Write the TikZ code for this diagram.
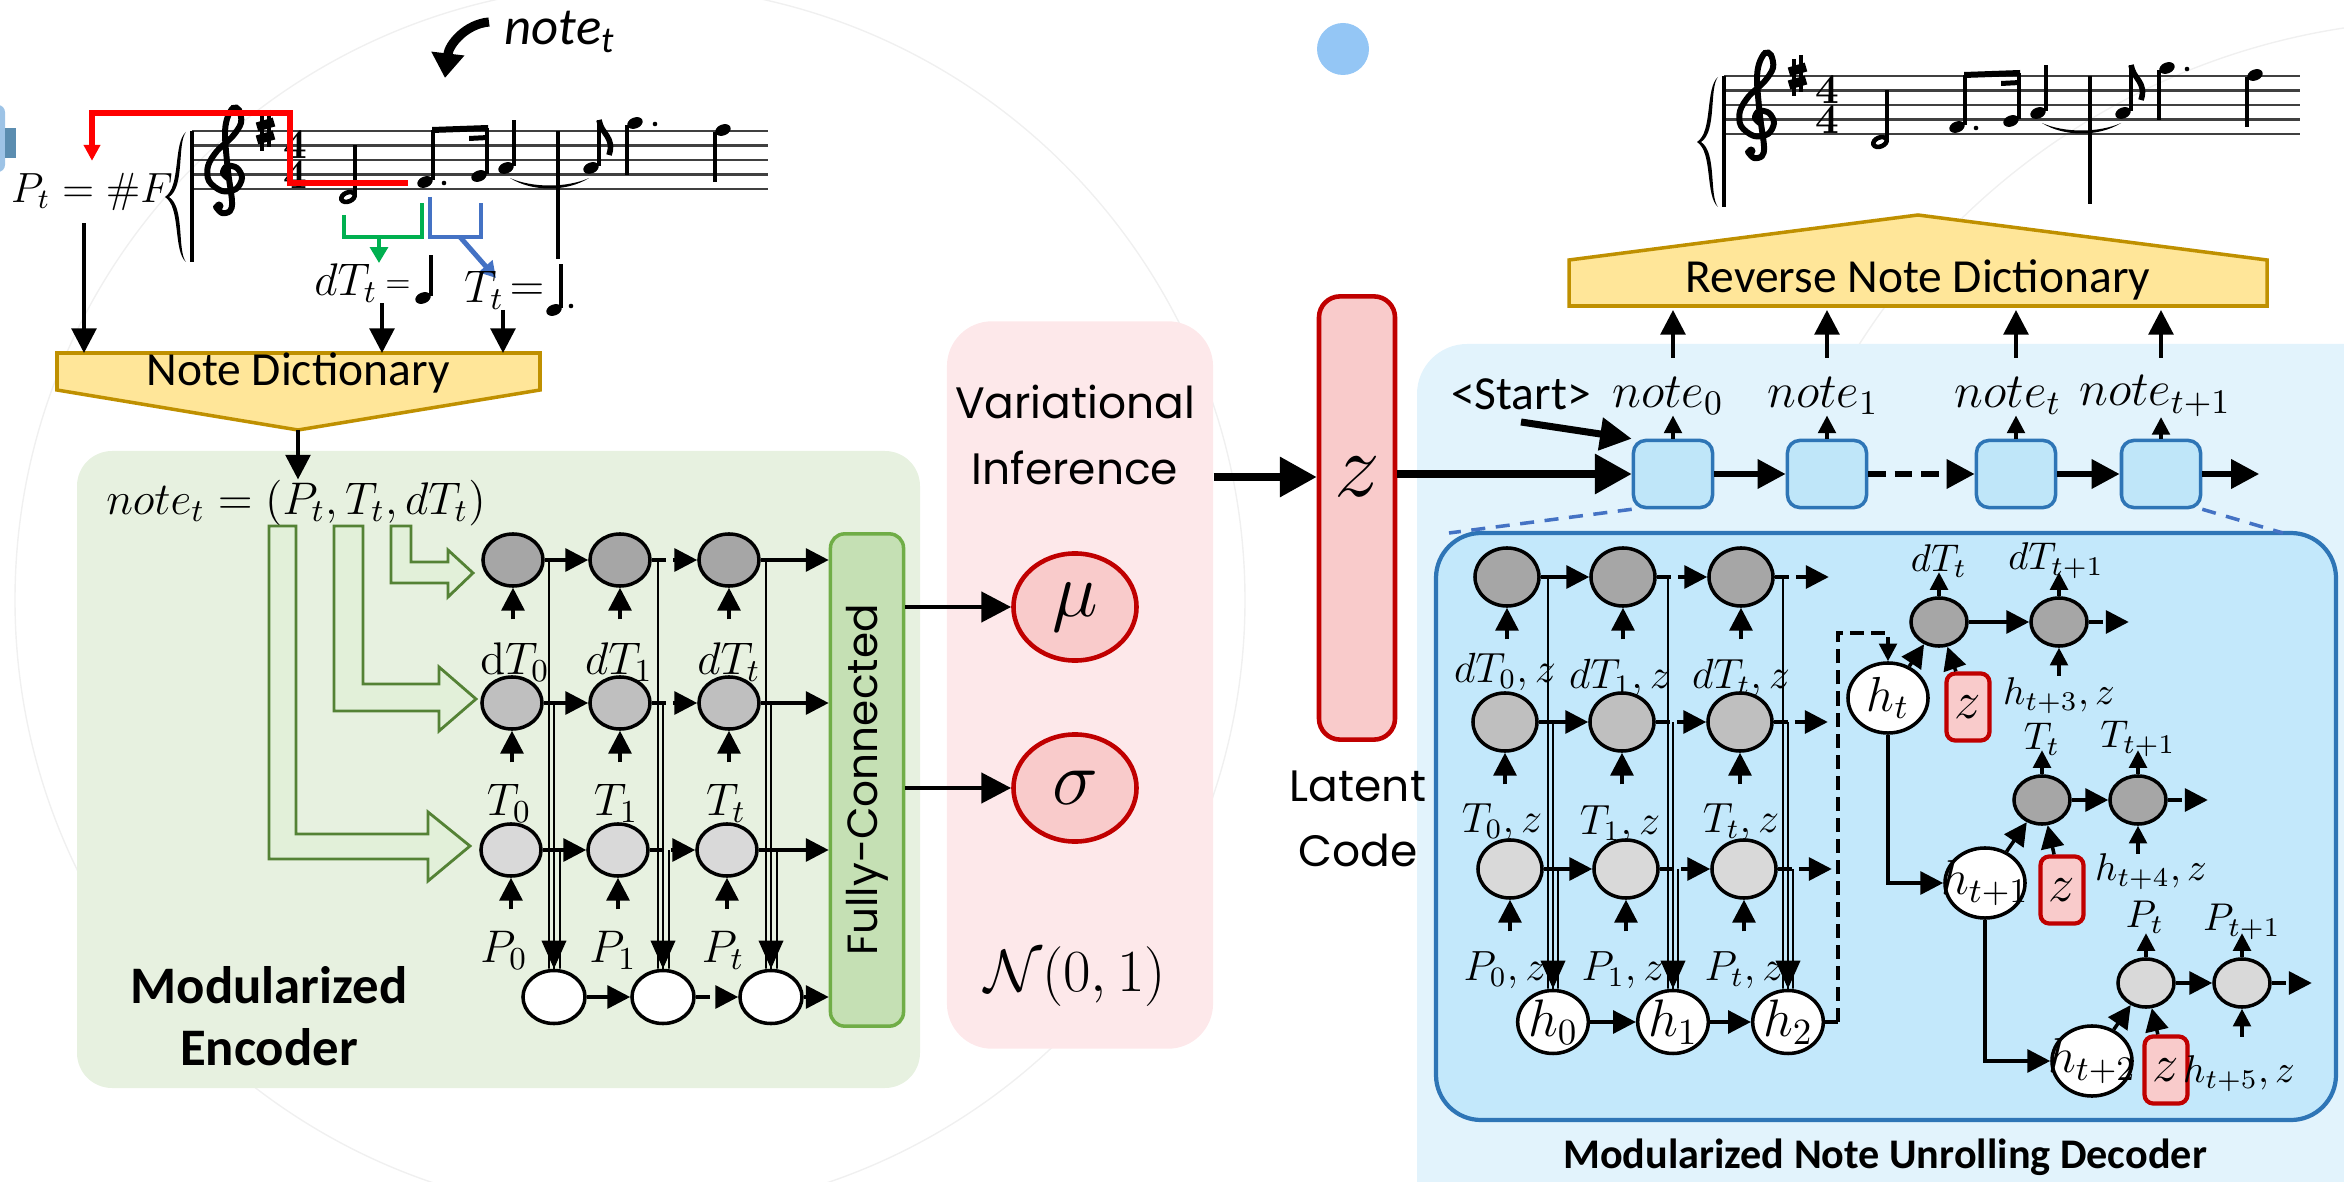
\RequirePackage{fix-cm}
\documentclass[tikz,border=0pt]{standalone}
\usepackage[no-math]{fontspec}
\setmainfont{Carlito}
\newfontfamily\geofont{Poppins}
\usetikzlibrary{shapes.geometric, arrows.meta, calc}

\definecolor{ndfill}{HTML}{FFE699}
\definecolor{nddraw}{HTML}{BF9000}
\definecolor{grayA}{HTML}{A6A6A6}
\definecolor{grayB}{HTML}{BFBFBF}
\definecolor{grayC}{HTML}{D9D9D9}
\definecolor{encbg}{HTML}{E7F1E0}
\definecolor{fcfill}{HTML}{C5E0B4}
\definecolor{fcdraw}{HTML}{70AD47}
\definecolor{hollowgreen}{HTML}{548235}
\definecolor{hollowfill}{HTML}{E2F0D9}
\definecolor{vibg}{HTML}{FDE8EA}
\definecolor{zred}{HTML}{C00000}
\definecolor{zfill}{HTML}{F9CBCB}
\definecolor{decbg}{HTML}{E2F3FC}
\definecolor{decin}{HTML}{C3E8FB}
\definecolor{celldraw}{HTML}{2E75B6}
\definecolor{cellfill}{HTML}{BFE6F9}
\definecolor{dotblue}{HTML}{94C6F5}
\definecolor{edgeblue}{HTML}{9DC3E6}
\definecolor{edgedark}{HTML}{5B8DB0}
\definecolor{brblue}{HTML}{4472C4}
\definecolor{brgreen}{HTML}{00B050}

\tikzset{
  arr/.style={line width=1pt, -{Triangle[length=6.5pt,width=6.5pt]}},
  smallarr/.style={line width=1pt, -{Triangle[length=5pt,width=5pt]}},
  ndarr/.style={line width=1.1pt, -{Triangle[length=7pt,width=7pt]}},
  fcarr/.style={line width=1.4pt, -{Triangle[length=8.5pt,width=8.5pt]}},
  bigarr/.style={line width=2.2pt, -{Triangle[length=10.5pt,width=11pt]}},
  cellarr/.style={line width=1.8pt, -{Triangle[length=8pt,width=8pt]}},
  dsh/.style={dash pattern=on 4pt off 2pt},
  vline/.style={line width=0.5pt},
  vhead/.style={line width=0.5pt, -{Triangle[length=8pt,width=7pt]}},
  staffline/.style={line width=0.6pt, black!75},
  notestem/.style={line width=0.9pt},
  timesig/.style={font=\fontsize{12}{8.4}\selectfont, inner sep=0pt, align=center},
  encA/.style={ellipse, draw, line width=1pt, fill=grayA, minimum width=0.6cm, minimum height=0.52cm, inner sep=0pt},
  encB/.style={encA, fill=grayB},
  encC/.style={encA, fill=grayC},
  encH/.style={encA, fill=white, minimum width=0.62cm, minimum height=0.53cm},
  decA/.style={encA, fill=grayA, minimum width=0.64cm, minimum height=0.58cm},
  decB/.style={decA, fill=grayB},
  decC/.style={decA, fill=grayC},
  decH/.style={decA, fill=white, font=\fontsize{15}{15}\selectfont},
  hbig/.style={decH, minimum width=0.8cm, minimum height=0.7cm},
  htext/.style={font=\fontsize{14}{14}\selectfont, inner sep=0pt},
  brA/.style={encA, fill=grayA, minimum width=0.56cm, minimum height=0.48cm},
  brC/.style={brA, fill=grayC},
  zsmall/.style={rectangle, rounded corners=2.5pt, draw=zred, line width=1.2pt, fill=zfill, minimum width=0.43cm, minimum height=0.67cm, inner sep=0pt, font=\fontsize{15}{15}\selectfont},
  zlat/.style={rectangle, rounded corners=6pt, draw=zred, line width=1.3pt, fill=zfill, minimum width=0.76cm, minimum height=4.43cm},
  deccell/.style={rectangle, rounded corners=3.5pt, draw=celldraw, line width=1pt, fill=cellfill, minimum width=0.79cm, minimum height=0.67cm},
  fcbox/.style={rectangle, rounded corners=4pt, draw=fcdraw, line width=1pt, fill=fcfill, minimum width=4.92cm, minimum height=0.73cm, font=\geofont\fontsize{12}{12}\selectfont},
  gauss/.style={ellipse, draw=zred, line width=1.3pt, fill=zfill, minimum width=1.23cm, minimum height=1.07cm, font=\fontsize{22}{22}\selectfont},
  hollow/.style={draw=hollowgreen, line width=0.8pt, fill=hollowfill},
  mlab/.style={font=\fontsize{13}{13}\selectfont, inner sep=0pt},
  dlab/.style={font=\fontsize{12}{12}\selectfont, inner sep=0pt},
  blab/.style={font=\fontsize{11}{11}\selectfont, inner sep=0pt},
  nlab/.style={font=\fontsize{14}{14}\selectfont, inner sep=0pt},
  geo/.style={font=\geofont\fontsize{12.5}{18.5}\selectfont, align=center},
  dict/.style={font=\fontsize{13.5}{13.5}\selectfont},
}

\newcommand\nhead[2]{\fill[rotate around={22:(#1,#2)}] (#1,#2) ellipse (8 and 5.5);}
\newcommand\melody{%
  \foreach \yy in {0,14.5,29,43.5,58} {\draw[staffline] (0,\yy) -- (576,\yy);}
  \draw[line width=1pt] (0,0) -- (0,131);
  \draw[line width=1pt] (366,0) -- (366,128);
  % brace
  \fill (-6,1) .. controls (-19,12) and (-11,56) .. (-27,66) .. controls (-11,76) and (-19,120) .. (-6,131)
        .. controls (-15,120) and (-7,76) .. (-23,66) .. controls (-7,56) and (-15,12) .. cycle;
  % clef
  \draw[line width=1.7pt, line cap=round] plot[smooth, tension=0.55] coordinates {(37,48) (31,42) (35,35) (45,37) (50,47) (44,58) (30,60) (17,50) (16,35) (25,20) (40,6) (49,-8) (47,-21) (41,-23) (35,-12) (33,5) (36,40) (40,70) (38,80) (30,82) (24,76)};
  \fill (27,75) circle (4.5);
  % key and time
  \draw[line width=0.9pt] (70,-17) -- (70,20) (77,-21) -- (77,16);
  \draw[line width=2.6pt] (65,-4) -- (82,-9) (65,9) -- (82,4);
  \node[timesig] at (103,29) {$\mathbf{4}$\\$\mathbf{4}$};
  % notes
  \draw[line width=1.3pt, rotate around={22:(156,66)}] (156,66) ellipse (7 and 4.5);
  \draw[notestem] (163,64) -- (163,14);
  \nhead{233}{51} \draw[notestem] (241,49) -- (241,-1);
  \fill (252,52) circle (2.3);
  \nhead{287}{45} \draw[notestem] (295,43) -- (295,-3);
  \fill (240,-4) -- (296,-6) -- (296,0) -- (240,2) -- cycle;
  \fill (277,5) -- (296,4) -- (296,9) -- (277,10) -- cycle;
  \nhead{314}{37} \draw[notestem] (322,35) -- (322,-11);
  \fill (318,47) .. controls (340,61) and (375,61) .. (397,47) .. controls (375,57) and (340,57) .. (318,47);
  \nhead{399}{37} \draw[notestem] (407,35) -- (407,-11);
  \draw[line width=1.6pt] (407,-11) .. controls (409,3) and (423,6) .. (417,24);
  \nhead{443}{-8} \draw[notestem] (435,-6) -- (435,44);
  \fill (463,-7) circle (2.3);
  \nhead{531}{-1} \draw[notestem] (523,1) -- (523,51);
}

\begin{document}
\begin{tikzpicture}[x=0.01cm, y=-0.01cm]
\useasboundingbox (0,0) rectangle (2344,1182);

% faint background arcs, edge remnant, dot
\draw[black!6, line width=0.4pt] (630,600) circle (615);
\draw[black!6, line width=0.4pt] (2450,720) circle (700);
\fill[edgeblue, rounded corners=2pt] (-10,105) rectangle (5,172);
\fill[edgedark] (5,128) rectangle (16,158);
\fill[dotblue] (1343,49) circle (26);

% backgrounds
\fill[encbg, rounded corners=0.35cm] (77,451) rectangle (920,1088);
\node[rectangle, rounded corners=0.45cm, fill=vibg, minimum width=2.66cm, minimum height=7.27cm] (vi) at (1080,685) {};
\fill[decbg, rounded corners=0.5cm] (1417,344) rectangle (2400,1240);
\draw[celldraw, line width=1.2pt, fill=decin, rounded corners=0.45cm] (1436,533) rectangle (2336,1120);

% scores
\begin{scope}[shift={(192,131)}] \melody \end{scope}
\begin{scope}[shift={(1724,76)}] \melody \end{scope}

% input annotations
\node[font=\itshape\fontsize{15}{15}\selectfont] (notet) at (560,32) {note\textsubscript{\itshape t}};
\coordinate (noteptr) at (445,78);
\draw[line width=2.6pt, -{Triangle[length=7pt,width=9pt]}] (489,22) .. controls (466,24) and (449,44) .. (noteptr);
\node[font=\fontsize{12}{12}\selectfont] (pt) at (92,192) {$P_t = \#F$};
\draw[red, line width=1.6pt, -{Triangle[length=4.5pt,width=4.5pt]}] (408,183) -- (290,183) -- (290,113) -| (pt.north);
\draw[brgreen, line width=1.4pt] (344,215) -- (344,237) -- (422,237) -- (422,203);
\draw[brgreen, line width=1.4pt, -{Triangle[length=4.5pt,width=5pt]}] (379,237) -- (379,263);
\draw[brblue, line width=1.4pt] (430,197) -- (430,237) -- (481,237) -- (481,203);
\draw[brblue, line width=1.4pt, -{Triangle[length=4.5pt,width=5pt]}] (460,237) -- (496,278);

\node[mlab] (dTt) at (346,283) {$dT_t$};
\node[font=\fontsize{9}{9}\selectfont] at (398,287) {$=$};
\nhead{423}{298} \draw[notestem] (431,296) -- (431,255);
\node[mlab] (Tt) at (484,290) {$T_t$};
\node[mlab] at (527,292) {$=$};
\nhead{554}{310} \draw[notestem] (561,308) -- (561,264);
\fill (571,306) circle (2.3);

% note dictionary
\filldraw[fill=ndfill, draw=nddraw, line width=1pt] (57,353) -- (540,353) -- (540,390) -- (298,430) -- (57,390) -- cycle;
\node[dict] (nd) at (298,373) {Note Dictionary};
\coordinate (ndl) at (84,353);
\coordinate (ndm) at (382,353);
\coordinate (ndr) at (503,353);
\coordinate (ndtip) at (298,430);
\draw[ndarr] (pt.south -| ndl) -- (ndl);
\draw[ndarr] (dTt.south -| ndm) -- (ndm);
\draw[ndarr] (Tt.south -| ndr) -- (ndr);
\node[mlab] (nform) at (296,503) {$note_t = (P_t, T_t, dT_t)$};
\draw[ndarr] (ndtip) -- (ndtip |- nform.north);

% encoder
\filldraw[hollow] (269,526) -- (296,526) -- (296,834) -- (428,834) -- (428,812) -- (470,846) -- (428,881) -- (428,859) -- (269,859) -- cycle;
\filldraw[hollow] (334,526) -- (363,526) -- (363,684) -- (439,684) -- (439,667) -- (476,699) -- (439,731) -- (439,711) -- (334,711) -- cycle;
\filldraw[hollow] (391,526) -- (411,526) -- (411,562) -- (448,562) -- (448,550) -- (473,573) -- (448,597) -- (448,583) -- (391,583) -- cycle;

\node[encA] (a0) at (513,560) {};
\node[encA] (a1) at (620,560) {};
\node[encA] (a2) at (729,560) {};
\node[encB] (b0) at (512,703) {};
\node[encB] (b1) at (620,703) {};
\node[encB] (b2) at (729,703) {};
\node[encC] (c0) at (511,850) {};
\node[encC] (c1) at (618,850) {};
\node[encC] (c2) at (727,850) {};
\node[encH] (h0) at (554,997) {};
\node[encH] (h1) at (663,997) {};
\node[encH] (h2) at (771,997) {};
\node[fcbox, rotate=90] (fc) at (867,780) {Fully-Connected};

\foreach \r in {a,b,c,h} {
  \draw[arr] (\r0) -- (\r1);
  \draw[arr,dsh] (\r1) -- (\r2);
  \draw[arr] (\r2) -- (\r2 -| fc.north);
}
\foreach \n in {a0,a1,a2,b0,b1,b2,c0,c1,c2} {\draw[arr] ([yshift=-9pt]\n.south) -- (\n.south);}
\foreach \k in {0,1,2} {
  \draw[vline] (a\k -| h\k) ++(-5,0) -- ([xshift=-1.42pt]h\k.north);
  \draw[vline] (b\k -| h\k) -- (h\k.north);
  \draw[vline] (c\k -| h\k) ++(6,0) -- ([xshift=1.7pt]h\k.north);
  \draw[vhead] ([yshift=8pt]h\k.north) -- (h\k.north);
}
\node[mlab] at (515,662) {$\mathrm{d}T_0$};
\node[mlab] at (619,662) {$dT_1$};
\node[mlab] at (729,662) {$dT_t$};
\node[mlab] at (509,803) {$T_0$};
\node[mlab] at (616,803) {$T_1$};
\node[mlab] at (726,803) {$T_t$};
\node[mlab] at (504,950) {$P_0$};
\node[mlab] at (613,950) {$P_1$};
\node[mlab] at (723,950) {$P_t$};
\node[font=\bfseries\fontsize{15}{17.6}\selectfont, align=center] at (269,1016) {Modularized\\Encoder};

% variational inference
\node[geo] (vitext) at (1075,435) {Variational\\Inference};
\node[gauss] (mu) at (1075,607) {$\mu$};
\node[gauss] (sg) at (1075,788) {$\sigma$};
\draw[fcarr] (mu -| fc.south) -- (mu);
\draw[fcarr] (sg -| fc.south) -- (sg);
\node[font=\fontsize{17}{17}\selectfont] (prior) at (1075,977) {$\mathcal{N}(0,1)$};

% latent code
\node[zlat] (zc) at (1357,518) {};
\node[font=\fontsize{26}{26}\selectfont] (zl) at (1357,477) {$z$};
\node[geo] (latent) at (1358,819) {Latent\\Code};
\draw[bigarr] (zl -| vi.east) -- (zl -| zc.west);

% decoder cells
\node[deccell] (s0) at (1673,474) {};
\node[deccell] (s1) at (1827,474) {};
\node[deccell] (s2) at (2016,474) {};
\node[deccell] (s3) at (2161,474) {};
\draw[bigarr] (s0 -| zc.east) -- (s0);
\draw[cellarr] (s0) -- (s1);
\draw[cellarr, dash pattern=on 5pt off 2.5pt] (s1) -- (s2);
\draw[cellarr] (s2) -- (s3);
\draw[cellarr] (s3.east) -- ++(57,0);
\node[nlab] (n0) at (1668,396) {$note_0$};
\node[nlab] (n1) at (1823,396) {$note_1$};
\node[nlab] (n2) at (2008,396) {$note_t$};
\node[nlab] (n3) at (2155,396) {$note_{t+1}$};
\node[dict] (st) at (1521,394) {<Start>};
\draw[line width=2pt, -{Triangle[length=9pt,width=9pt]}] (st.south) -- (s0.north west);

\filldraw[fill=ndfill, draw=nddraw, line width=1pt] (1569,306) -- (1569,260) -- (1918,215) -- (2267,260) -- (2267,306) -- cycle;
\node[dict] (rnd) at (1918,280) {Reverse Note Dictionary};
\coordinate (upst) at (1918,358);
\coordinate (rndb) at (1918,310);
\foreach \c/\l in {s0/n0,s1/n1,s2/n2,s3/n3} {
  \draw[smallarr] (\c.north) -- (\c.north |- \l.south);
  \draw[ndarr] (\c |- upst) -- (\c |- rndb);
}
\coordinate (inTL) at (1449,533);
\coordinate (inTR) at (2283,533);
\draw[brblue, line width=1pt, dash pattern=on 4pt off 3pt] (s0.south west) -- (inTL);
\draw[brblue, line width=1pt, dash pattern=on 4pt off 3pt] (s3.south east) -- (inTR);

% unrolled decoder
\node[decA] (da0) at (1507,577) {};
\node[decA] (da1) at (1623,577) {};
\node[decA] (da2) at (1741,577) {};
\node[decB] (db0) at (1505,722) {};
\node[decB] (db1) at (1622,722) {};
\node[decB] (db2) at (1740,722) {};
\node[decC] (dc0) at (1510,869) {};
\node[decC] (dc1) at (1626,869) {};
\node[decC] (dc2) at (1744,869) {};
\node[decH] (dh0) at (1553,1022) {$h_0$};
\node[decH] (dh1) at (1673,1022) {$h_1$};
\node[decH] (dh2) at (1788,1022) {$h_2$};
\foreach \r in {da,db,dc} {
  \draw[arr] (\r0) -- (\r1);
  \draw[arr,dsh] (\r1) -- (\r2);
  \draw[arr,dsh] (\r2.east) -- ++(54,0);
}
\draw[arr] (dh0) -- (dh1);
\draw[arr] (dh1) -- (dh2);
\foreach \n in {da0,da1,da2,db0,db1,db2,dc0,dc1,dc2} {\draw[arr] ([yshift=-9pt]\n.south) -- (\n.south);}
\foreach \k in {0,1,2} {
  \draw[vline] (da\k -| dh\k) ++(-5,0) -- ([xshift=-1.42pt]dh\k.north);
  \draw[vline] (db\k -| dh\k) -- (dh\k.north);
  \draw[vline] (dc\k -| dh\k) ++(5,0) -- ([xshift=1.42pt]dh\k.north);
  \draw[vhead] ([yshift=8pt]dh\k.north) -- (dh\k.north);
}
\node[dlab] at (1505,672) {$dT_0,z$};
\node[dlab] at (1620,678) {$dT_1,z$};
\node[dlab] at (1741,678) {$dT_t,z$};
\node[dlab] at (1502,822) {$T_0,z$};
\node[dlab] at (1620,824) {$T_1,z$};
\node[dlab] at (1741,822) {$T_t,z$};
\node[dlab] at (1505,970) {$P_0,z$};
\node[dlab] at (1623,970) {$P_1,z$};
\node[dlab] at (1744,970) {$P_t,z$};

\node[hbig] (ht) at (1888,698) {};
\node[hbig] (ht1) at (1985,883) {};
\node[hbig] (ht2) at (2092,1061) {};
\node[htext] at (ht) {$h_t$};
\node[htext] at (ht1) {$h_{t+1}$};
\node[htext] at (ht2) {$h_{t+2}$};
\coordinate (jmp) at (1838,633);
\draw[line width=1pt] (dh2.east) -- (dh2 -| jmp);
\draw[smallarr, dsh] (dh2 -| jmp) -- (jmp) -| (ht.north);
\draw[arr] (ht.south) |- (ht1);
\draw[arr] (ht1.south) |- (ht2);

\node[brA] (xa) at (1939,622) {};
\node[brA] (xb) at (2059,622) {};
\node[brA] (ya) at (2042,800) {};
\node[brA] (yb) at (2138,800) {};
\node[brC] (pa) at (2146,983) {};
\node[brC] (pb) at (2242,983) {};
\node[zsmall] (za) at (1968,707) {$z$};
\node[zsmall] (zb) at (2062,890) {$z$};
\node[zsmall] (zd) at (2166,1070) {$z$};
\foreach \h/\z/\u/\v in {ht/za/xa/xb, ht1/zb/ya/yb, ht2/zd/pa/pb} {
  \draw[arr] (\h) -- (\u);
  \draw[arr] (\z) -- (\u);
  \draw[arr] (\u) -- (\v);
  \draw[arr,dsh] (\v.east) -- ++(40,0);
  \draw[smallarr] (\u.north) -- ++(0,-24);
  \draw[smallarr] (\v.north) -- ++(0,-24);
  \draw[smallarr] ([yshift=-8pt]\v.south) -- (\v.south);
}
\node[blab] at (1939,561) {$dT_t$};
\node[blab] at (2056,561) {$dT_{t+1}$};
\node[blab] at (2059,696) {$h_{t+3},z$};
\node[blab] at (2042,739) {$T_t$};
\node[blab] at (2138,739) {$T_{t+1}$};
\node[blab] at (2151,872) {$h_{t+4},z$};
\node[blab] at (2145,917) {$P_t$};
\node[blab] at (2242,922) {$P_{t+1}$};
\node[blab] at (2239,1074) {$h_{t+5},z$};

\node[font=\bfseries\fontsize{12}{12}\selectfont] (dectitle) at (1885,1157) {Modularized Note Unrolling Decoder};
\end{tikzpicture}
\end{document}
